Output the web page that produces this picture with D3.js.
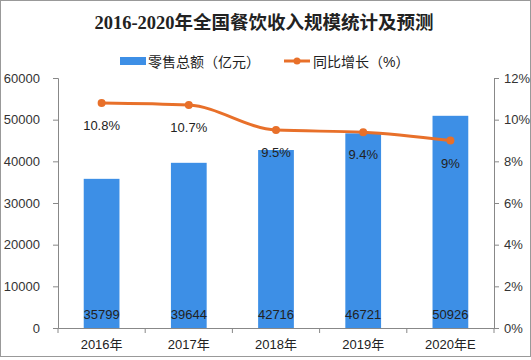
<!DOCTYPE html>
<html><head><meta charset="utf-8">
<script src="https://cdn.jsdelivr.net/npm/d3@7"></script>
<style>body{margin:0;background:#fff}svg{display:block}</style>
</head><body>
<svg id="c" width="531" height="360"></svg>
<script>
const categories = ["2016年","2017年","2018年","2019年","2020年E"];
const sales = [35799, 39644, 42716, 46721, 50926];
const growth = [10.8, 10.7, 9.5, 9.4, 9];
const growthLabels = ["10.8%","10.7%","9.5%","9.4%","9%"];
const leftTicks = [0,10000,20000,30000,40000,50000,60000];
const rightTicks = [0,2,4,6,8,10,12];

const svg = d3.select("#c");
const W = 531, H = 360;
const m = {l:58, r:494, t:78, b:328};
const font = "'Liberation Sans','Noto Sans CJK SC',sans-serif";
const barColor = "#3d8fe6", lineColor = "#e8702a", axisColor = "#888";

svg.append("rect").attr("x",0.5).attr("y",0.5).attr("width",W-1).attr("height",H-4)
  .attr("fill","#fff").attr("stroke","#999");

const x = d3.scaleBand().domain(categories).range([m.l, m.r]).paddingInner(0.59).paddingOuter(0.295);
const yL = d3.scaleLinear().domain([0,60000]).range([m.b, m.t]);
const yR = d3.scaleLinear().domain([0,12]).range([m.b, m.t]);

// title
svg.append("text").attr("x",264).attr("y",29).attr("text-anchor","middle")
  .attr("font-family","'Liberation Serif','Noto Sans CJK SC',serif").attr("font-weight","bold")
  .attr("font-size",18.5).attr("fill","#222").text("2016-2020年全国餐饮收入规模统计及预测");

// legend
const lg = svg.append("g").attr("font-family",font).attr("font-size",14).attr("fill","#222");
lg.append("rect").attr("x",120).attr("y",57).attr("width",26).attr("height",8).attr("fill",barColor);
lg.append("text").attr("x",148).attr("y",67).text("零售总额（亿元）");
lg.append("line").attr("x1",284).attr("x2",310).attr("y1",61).attr("y2",61).attr("stroke",lineColor).attr("stroke-width",3);
lg.append("circle").attr("cx",297).attr("cy",61).attr("r",3.5).attr("fill",lineColor);
lg.append("text").attr("x",313).attr("y",67).text("同比增长（%）");

// axes
const axL = svg.append("g").attr("transform",`translate(${m.l},0)`)
  .call(d3.axisLeft(yL).tickValues(leftTicks).tickSize(5).tickPadding(13).tickFormat(d=>d));
const axR = svg.append("g").attr("transform",`translate(${m.r},0)`)
  .call(d3.axisRight(yR).tickValues(rightTicks).tickSize(5).tickPadding(5).tickFormat(d=>d+"%"));
[axL,axR].forEach(a=>{
  a.select(".domain").attr("stroke",axisColor);
  a.selectAll(".tick line").attr("stroke",axisColor);
  a.selectAll("text").attr("font-family",font).attr("font-size",13).attr("fill","#333");
});

// bars
svg.append("g").selectAll("rect").data(sales).join("rect")
  .attr("x",(d,i)=>x(categories[i])).attr("width",x.bandwidth())
  .attr("y",d=>yL(d)).attr("height",d=>m.b-yL(d)).attr("fill",barColor);

// x axis
const axX = svg.append("g").attr("transform",`translate(0,${m.b})`)
  .call(d3.axisBottom(x).tickSize(0).tickPadding(12));
axX.select(".domain").attr("stroke",axisColor);
axX.selectAll("text").attr("font-family",font).attr("font-size",13).attr("fill","#222");
const bounds = d3.range(categories.length+1).map(i=>m.l + i*x.step());
axX.selectAll("line.b").data(bounds).join("line").attr("class","b")
  .attr("x1",d=>d).attr("x2",d=>d).attr("y1",0).attr("y2",5).attr("stroke",axisColor);

// bar value labels
svg.append("g").selectAll("text").data(sales).join("text")
  .attr("x",(d,i)=>x(categories[i])+x.bandwidth()/2).attr("y",m.b-9)
  .attr("text-anchor","middle").attr("font-family",font).attr("font-size",13).attr("fill","#222")
  .text(d=>d);

// line
const cx = i=>x(categories[i])+x.bandwidth()/2;
const line = d3.line().x((d,i)=>cx(i)).y(d=>yR(d)).curve(d3.curveMonotoneX);
svg.append("path").datum(growth).attr("d",line).attr("fill","none")
  .attr("stroke",lineColor).attr("stroke-width",3);
svg.append("g").selectAll("circle").data(growth).join("circle")
  .attr("cx",(d,i)=>cx(i)).attr("cy",d=>yR(d)).attr("r",4).attr("fill",lineColor);
svg.append("g").selectAll("text").data(growth).join("text")
  .attr("x",(d,i)=>cx(i)).attr("y",d=>yR(d)+27)
  .attr("text-anchor","middle").attr("font-family",font).attr("font-size",13).attr("fill","#222")
  .text((d,i)=>growthLabels[i]);
</script>
</body></html>
